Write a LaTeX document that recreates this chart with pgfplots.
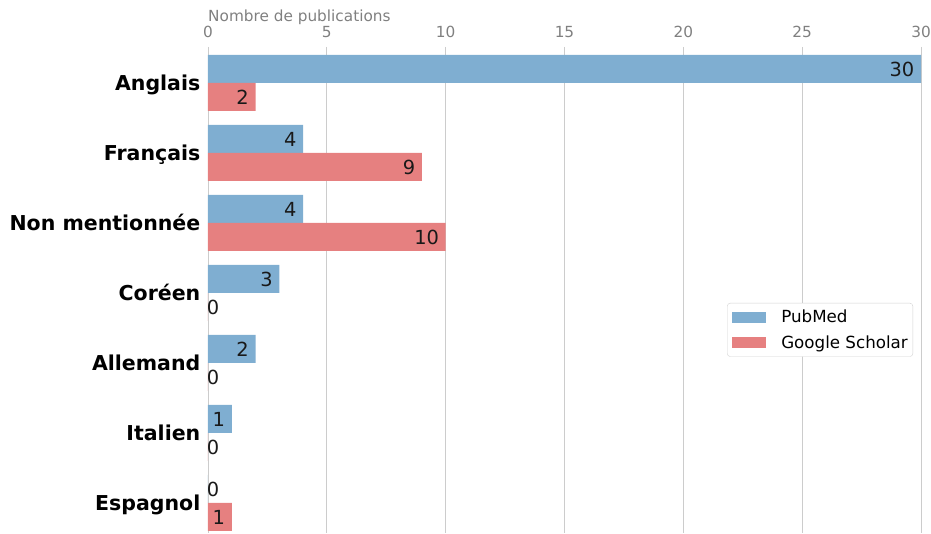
\documentclass[border=0pt]{standalone}
\usepackage{pgfplots}
\usepackage{pgfplotstable}
\pgfplotsset{compat=1.18}
\usepackage{fontspec}
\setmainfont{DejaVu Sans}
\definecolor{pub}{RGB}{127,174,209}
\definecolor{gs}{RGB}{230,128,128}
\definecolor{tickgray}{RGB}{128,128,128}
\definecolor{gridgray}{RGB}{204,204,204}
\pgfplotstableread{
idx pub gs
0 30 2
1 4 9
2 4 10
3 3 0
4 2 0
5 1 0
6 0 1
}\data
\pgfplotsset{
  mylegend/.style={legend image code/.code={\fill[##1,draw=none,sharp corners] (0pt,-5.5pt) rectangle (34pt,5.5pt);}},
  inlbl/.style={draw=none, mark=none, forget plot, point meta=x, nodes near coords,
    nodes near coords style={anchor=base east, inner sep=0pt, xshift=-6.5pt, yshift=-7.1pt,
      font=\fontsize{19.4}{22}\selectfont, text=black!90}},
  zerolbl/.style={draw=none, mark=none, forget plot, point meta=x, nodes near coords,
    nodes near coords style={anchor=base west, inner sep=0pt, xshift=-1.2pt, yshift=-7.1pt,
      font=\fontsize{19.4}{22}\selectfont, text=black!90}},
}
\begin{document}
\begin{tikzpicture}
\begin{axis}[
  name=ax,
  scale only axis, width=713pt, height=486pt,
  xmin=0, xmax=30, ymin=-0.514, ymax=6.43,
  y dir=reverse,
  axis line style={draw=none},
  xtick={0,5,...,30},
  xticklabel pos=top,
  ytick={0,...,6},
  yticklabels={Anglais,Français,Non mentionnée,Coréen,Allemand,Italien,Espagnol},
  major tick length=0pt,
  tick style={draw=none},
  xmajorgrids, ymajorgrids=false,
  grid style={draw=gridgray, line width=0.8pt},
  /pgf/number format/assume math mode=true,
  x tick label style={font=\fontsize{15.3}{17}\selectfont, text=tickgray, inner sep=0pt, anchor=south, yshift=9pt},
  y tick label style={font=\fontsize{20.5}{24}\selectfont\bfseries, text=black, inner sep=0pt, anchor=base east, xshift=-7.5pt, yshift=-7.4pt},
  xlabel={Nombre de publications},
  xlabel style={at={(axis description cs:0,1)}, anchor=base west, inner sep=0pt, yshift=25pt, font=\fontsize{15.3}{17}\selectfont, text=tickgray},
  legend style={at={(axis description cs:0.9888,0.418)}, anchor=east, draw=gray!35, rounded corners=3pt, fill=white,
    font=\fontsize{16.7}{19}\selectfont, inner xsep=5pt, inner ysep=7pt, row sep=11pt,
    nodes={inner sep=0pt}, /tikz/every odd column/.append style={column sep=15pt}},
  legend cell align=left,
]
\addplot[xbar, bar width=0.4, bar shift=0pt, fill=pub, draw=none, mylegend] table[x=pub, y expr=\thisrow{idx}-0.2]{\data};
\addlegendentry{PubMed}
\addplot[xbar, bar width=0.4, bar shift=0pt, fill=gs, draw=none, mylegend] table[x=gs, y expr=\thisrow{idx}+0.2]{\data};
\addlegendentry{Google Scholar}
\addplot[inlbl, x filter/.expression={x>0 ? x : nan}] table[x=pub, y expr=\thisrow{idx}-0.2]{\data};
\addplot[inlbl, x filter/.expression={x>0 ? x : nan}] table[x=gs, y expr=\thisrow{idx}+0.2]{\data};
\addplot[zerolbl, x filter/.expression={x==0 ? x : nan}] table[x=pub, y expr=\thisrow{idx}-0.2]{\data};
\addplot[zerolbl, x filter/.expression={x==0 ? x : nan}] table[x=gs, y expr=\thisrow{idx}+0.2]{\data};
\end{axis}
\pgfresetboundingbox
\path[use as bounding box] ([xshift=-208pt]ax.south west) rectangle ([xshift=10pt,yshift=47pt]ax.north east);
\end{tikzpicture}
\end{document}
